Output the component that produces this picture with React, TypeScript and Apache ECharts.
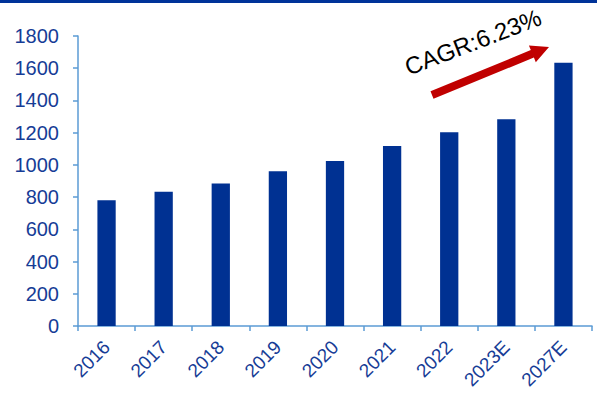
import React, { useEffect, useRef } from "react";
import * as echarts from "echarts";

const categories = ["2016", "2017", "2018", "2019", "2020", "2021", "2022", "2023E", "2027E"];
const values = [780, 834, 884, 960, 1024, 1118, 1202, 1283, 1634];
const cagrLabel = "CAGR:6.23%";

export default function App() {
  const ref = useRef<HTMLDivElement>(null);
  useEffect(() => {
    if (!ref.current) return;
    const chart = echarts.init(ref.current, undefined, { renderer: "svg" });
    const axisBlue = "#5B9BD5";
    const labelBlue = "#163C96";
    chart.setOption({
      animation: false,
      grid: { left: 78, right: 5, top: 36, bottom: 75, containLabel: false },
      xAxis: {
        type: "category",
        data: categories,
        axisLine: { lineStyle: { color: axisBlue, width: 1.5 } },
        axisTick: { show: true, alignWithLabel: false, length: 5, lineStyle: { color: axisBlue, width: 1.5 } },
        axisLabel: {
          rotate: 45,
          color: labelBlue,
          fontSize: 19,
          fontFamily: "Liberation Sans",
          margin: 18,
          interval: 0,
        },
      },
      yAxis: {
        type: "value",
        min: 0,
        max: 1800,
        interval: 200,
        axisLine: { show: true, lineStyle: { color: axisBlue, width: 1.5 } },
        axisTick: { show: true, length: 5, lineStyle: { color: axisBlue, width: 1.5 } },
        splitLine: { show: false },
        axisLabel: {
          color: labelBlue,
          fontSize: 20,
          fontFamily: "Liberation Sans",
          margin: 19,
          formatter: (v: number) => String(v),
        },
      },
      series: [
        {
          type: "bar",
          data: values,
          barWidth: "32%",
          itemStyle: { color: "#003192" },
        },
      ],
      graphic: [
        {
          type: "rect",
          left: 0,
          top: 0,
          shape: { width: 597, height: 3 },
          style: { fill: "#003399" },
        },
        {
          type: "polygon",
          shape: {
            points: [
              [433.5, 98.7],
              [430.5, 91.3],
              [530.8, 50.1],
              [528.9, 45.5],
              [549, 47],
              [535.8, 62.2],
              [533.9, 57.5],
            ],
          },
          style: { fill: "#C00000" },
        },
        {
          type: "text",
          x: 473,
          y: 42,
          rotation: (21 * Math.PI) / 180,
          style: {
            text: cagrLabel,
            fill: "#000",
            font: "24px 'Liberation Sans'",
            align: "center",
            verticalAlign: "middle",
          },
        },
      ],
    });
    return () => chart.dispose();
  }, []);
  return <div ref={ref} style={{ width: 597, height: 401, position: "absolute", left: 0, top: 0 }} />;
}
